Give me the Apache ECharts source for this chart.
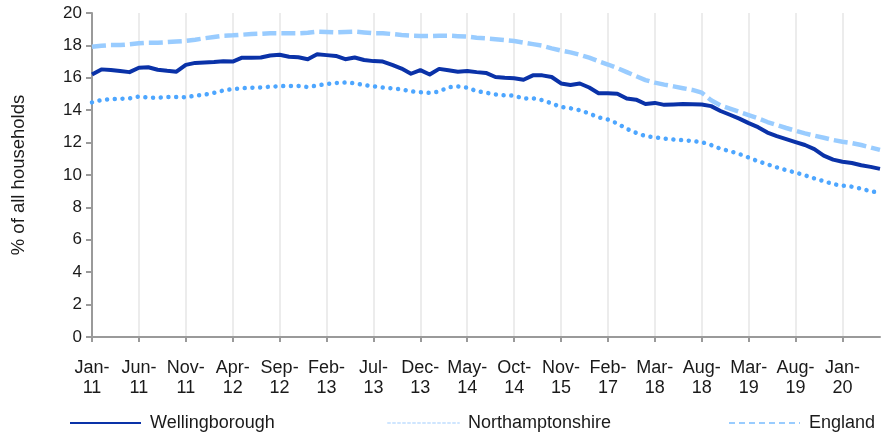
<!DOCTYPE html>
<html>
<head>
<meta charset="utf-8">
<script src="https://cdn.jsdelivr.net/npm/echarts@6/dist/echarts.min.js"></script>
<style>
  html, body { margin: 0; padding: 0; background: #fff; }
  #main { width: 881px; height: 432px; }
</style>
</head>
<body>
<div id="main"></div>
<script>
// tick labels, one every 5 data points
const tickLabels = ['Jan-\n11', 'Jun-\n11', 'Nov-\n11', 'Apr-\n12', 'Sep-\n12', 'Feb-\n13', 'Jul-\n13',
  'Dec-\n13', 'May-\n14', 'Oct-\n14', 'Nov-\n15', 'Feb-\n17', 'Mar-\n18', 'Aug-\n18', 'Mar-\n19',
  'Aug-\n19', 'Jan-\n20'];

const wellingborough = [
  16.2, 16.52, 16.48, 16.42, 16.35, 16.62, 16.65, 16.5, 16.43, 16.38,
  16.8, 16.92, 16.94, 16.97, 17.02, 17.0, 17.24, 17.24, 17.25, 17.38,
  17.42, 17.3, 17.27, 17.15, 17.45, 17.4, 17.35, 17.15, 17.25, 17.1,
  17.03, 17.0, 16.8, 16.57, 16.25, 16.47, 16.2, 16.55, 16.46, 16.38,
  16.42, 16.35, 16.3, 16.05, 16.0, 15.97, 15.88, 16.15, 16.15, 16.05,
  15.65, 15.56, 15.65, 15.4, 15.05, 15.04, 15.02, 14.72, 14.65, 14.38,
  14.45, 14.33, 14.35, 14.38, 14.37, 14.35, 14.25, 13.95, 13.72, 13.48,
  13.2, 12.95, 12.62, 12.4, 12.22, 12.03, 11.85, 11.6, 11.2, 10.95,
  10.82, 10.74, 10.6, 10.5, 10.38
];

const northamptonshire = [
  14.48, 14.63, 14.69, 14.7, 14.73, 14.85, 14.78, 14.77, 14.81, 14.82,
  14.8, 14.9, 14.96, 15.07, 15.22, 15.3, 15.36, 15.39, 15.41, 15.45,
  15.48, 15.5, 15.49, 15.43, 15.52, 15.62, 15.68, 15.71, 15.66, 15.55,
  15.47, 15.4, 15.35, 15.29, 15.16, 15.11, 15.07, 15.15, 15.42, 15.46,
  15.4, 15.18, 15.08, 14.97, 14.92, 14.9, 14.72, 14.74, 14.62, 14.42,
  14.2, 14.12, 14.0, 13.8, 13.56, 13.42, 13.18, 12.85, 12.6, 12.4,
  12.33, 12.25, 12.19, 12.15, 12.1, 12.03, 11.85, 11.62, 11.47, 11.3,
  11.08, 10.85, 10.66, 10.47, 10.3, 10.15, 9.98, 9.79, 9.62, 9.44,
  9.34, 9.28, 9.15, 9.0, 8.9
];

const england = [
  17.92, 17.98, 18.02, 18.02, 18.07, 18.13, 18.17, 18.17, 18.2, 18.24,
  18.28, 18.35, 18.44, 18.52, 18.6, 18.62, 18.66, 18.7, 18.72, 18.75,
  18.75, 18.75, 18.75, 18.78, 18.85, 18.83, 18.8, 18.83, 18.85, 18.8,
  18.75, 18.75, 18.7, 18.64, 18.6, 18.58, 18.58, 18.6, 18.6, 18.57,
  18.54, 18.47, 18.43, 18.38, 18.33, 18.27, 18.17, 18.08, 17.98, 17.82,
  17.68, 17.57, 17.42, 17.24, 17.02, 16.82, 16.6, 16.35, 16.1, 15.86,
  15.7, 15.58, 15.47, 15.36, 15.25, 15.08, 14.62, 14.3, 14.1, 13.9,
  13.7, 13.5, 13.27, 13.08, 12.9, 12.73, 12.57, 12.43, 12.3, 12.16,
  12.05, 11.97, 11.85, 11.7, 11.55
];

const categories = wellingborough.map((v, i) => (i % 5 === 0 ? tickLabels[i / 5] : 'p' + i));

const font = 'Liberation Sans, Arial, sans-serif';
const textColor = '#1a1a1a';

const chart = echarts.init(document.getElementById('main'));

// one legend per item so each can sit where the reference puts it
function legendAt(left, name, line) {
  return {
    left: left,
    top: 409,
    itemWidth: 71,
    itemHeight: 20,
    data: [name],
    textStyle: { fontFamily: font, fontSize: 18, color: textColor, padding: [0, 0, 0, 4] },
    itemStyle: { opacity: 0 },
    lineStyle: Object.assign({ width: 2 }, line),
    selectedMode: false
  };
}

chart.setOption({
  animation: false,
  grid: { left: 92, right: 1, top: 13, bottom: 95 },
  legend: [
    legendAt(64, 'Wellingborough', {}),
    legendAt(382, 'Northamptonshire', { color: '#cfe6ff', type: [2, 3] }),
    legendAt(723, 'England', { type: [6, 4] })
  ],
  xAxis: {
    type: 'category',
    boundaryGap: false,
    data: categories,
    axisLine: { lineStyle: { color: '#9a9a9a', width: 2 } },
    axisTick: { interval: 4, length: 5, lineStyle: { color: '#9a9a9a', width: 2 } },
    splitLine: { show: true, interval: 4, lineStyle: { color: '#ececec', width: 2 } },
    axisLabel: {
      interval: 4,
      margin: 21,
      fontFamily: font,
      fontSize: 18,
      lineHeight: 20,
      color: textColor
    }
  },
  yAxis: {
    type: 'value',
    min: 0,
    max: 20,
    interval: 2,
    name: '% of all households',
    nameLocation: 'middle',
    nameGap: 64,
    nameTextStyle: { fontFamily: font, fontSize: 18.5, color: textColor },
    axisLine: { show: true, lineStyle: { color: '#9a9a9a', width: 2 } },
    axisTick: { show: true, length: 6, lineStyle: { color: '#9a9a9a', width: 2 } },
    splitLine: { show: false },
    axisLabel: { margin: 10, fontFamily: font, fontSize: 17, color: textColor }
  },
  series: [
    {
      name: 'Wellingborough',
      type: 'line',
      data: wellingborough,
      symbol: 'none',
      color: '#0a32a8',
      lineStyle: { width: 4, color: '#0a32a8', join: 'round' }
    },
    {
      name: 'Northamptonshire',
      type: 'line',
      data: northamptonshire,
      symbol: 'none',
      color: '#4da6ff',
      lineStyle: { width: 4.5, color: '#4da6ff', type: [0.01, 7.7], cap: 'round' }
    },
    {
      name: 'England',
      type: 'line',
      data: england,
      symbol: 'none',
      color: '#99ccff',
      lineStyle: { width: 4.5, color: '#99ccff', type: [14, 5] }
    }
  ]
});
</script>
</body>
</html>
